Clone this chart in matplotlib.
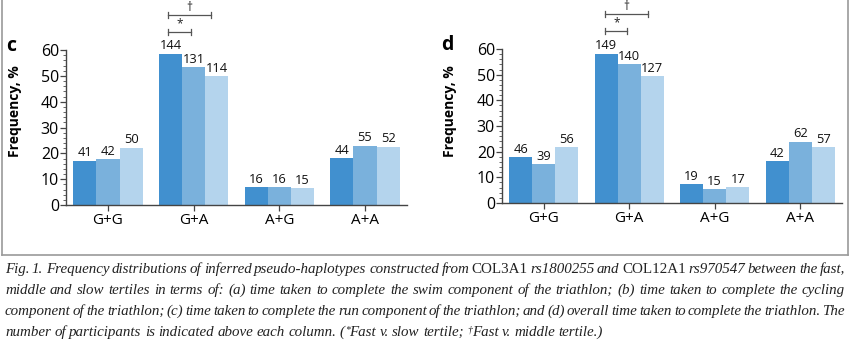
import matplotlib
matplotlib.use('Agg')
import matplotlib.pyplot as plt
from matplotlib.ticker import MultipleLocator
from matplotlib.lines import Line2D

categories = ['G+G', 'G+A', 'A+G', 'A+A']
tertiles = ['Fast', 'Middle', 'Slow']

# Panel c (run component) – frequency %
c_fast = [17.2, 58.6, 7.0, 18.1]
c_middle = [17.7, 53.4, 6.8, 23.0]
c_slow = [22.2, 49.8, 6.5, 22.6]
c_n_fast = [41, 144, 16, 44]
c_n_middle = [42, 131, 16, 55]
c_n_slow = [50, 114, 15, 52]

# Panel d (overall time) – frequency %
d_fast = [17.9, 58.2, 7.4, 16.4]
d_middle = [15.1, 54.0, 5.5, 23.9]
d_slow = [21.7, 49.4, 6.2, 21.7]
d_n_fast = [46, 149, 19, 42]
d_n_middle = [39, 140, 15, 62]
d_n_slow = [56, 127, 17, 57]

colors = ['#4190cf', '#7ab1dc', '#b4d4ed']
W, H = 849, 341
FONT = ['Open Sans', 'DejaVu Sans']
plt.rcParams['font.family'] = FONT

fig = plt.figure(figsize=(W / 100, H / 100), dpi=100)


def px_axes(left, right, top, bottom):
    return fig.add_axes([left / W, 1 - bottom / H, (right - left) / W, (bottom - top) / H])


def panel(ax, series, counts, xbr):
    bw = 0.27
    offs = [-bw, 0, bw]
    for vals, ns, off, col in zip(series, counts, offs, colors):
        xs = [i + off for i in range(len(categories))]
        ax.bar(xs, vals, width=bw, color=col, linewidth=0)
        for x, v, n in zip(xs, vals, ns):
            ax.text(x, v + 0.5, str(n), ha='center', va='bottom', fontsize=9.3, color='#111')
    ax.set_xlim(-0.49, 3.49)
    ax.set_ylim(0, 60)
    for s in ['top', 'right']:
        ax.spines[s].set_visible(False)
    for s in ['left', 'bottom']:
        ax.spines[s].set_color('#444')
        ax.spines[s].set_linewidth(1.0)
    ax.yaxis.set_major_locator(MultipleLocator(10))
    ax.yaxis.set_minor_locator(MultipleLocator(2))
    ax.set_xticks(range(len(categories)))
    ax.set_xticklabels(categories, fontsize=11)
    ax.tick_params(axis='y', which='major', length=4, width=0.9, color='#444', labelsize=11.5, pad=1)
    ax.tick_params(axis='y', which='minor', length=2.5, width=0.7, color='#666')
    ax.tick_params(axis='x', which='major', length=4, width=0.9, color='#444', pad=1.5)
    # significance brackets
    x0, xs_end, xd_end = xbr
    cap = 1.2
    for (xe, y, sym) in [(xd_end, 73.5, '\u2020'), (xs_end, 67.0, '*')]:
        ax.plot([x0, xe], [y, y], color='#555', lw=0.9, clip_on=False)
        ax.plot([x0, x0], [y - cap, y + cap], color='#555', lw=0.9, clip_on=False)
        ax.plot([xe, xe], [y - cap, y + cap], color='#555', lw=0.9, clip_on=False)
        ax.text((x0 + xe) / 2, y + 0.6, sym, ha='center', va='bottom', fontsize=8.5, color='#222', clip_on=False)


axc = px_axes(66, 407, 50, 205)
panel(axc, [c_fast, c_middle, c_slow], [c_n_fast, c_n_middle, c_n_slow], (0.70, 0.97, 1.20))
axd = px_axes(502, 842, 49, 203)
panel(axd, [d_fast, d_middle, d_slow], [d_n_fast, d_n_middle, d_n_slow], (0.72, 0.977, 1.22))

fig.text(11 / W, 1 - 46 / H, 'c', fontsize=14, fontweight='bold', ha='center', va='center')
fig.text(447 / W, 1 - 45 / H, 'd', fontsize=14, fontweight='bold', ha='center', va='center')
fig.text(15 / W, 1 - 111 / H, 'Frequency, %', rotation=90, fontsize=10, fontweight='bold', ha='center', va='center')
fig.text(450 / W, 1 - 111 / H, 'Frequency, %', rotation=90, fontsize=10, fontweight='bold', ha='center', va='center')

# frame around the figure panels
gray = '#9a9a9a'
for xs, ys in [([1.5, 1.5], [-5, 255]), ([847.5, 847.5], [-5, 255]), ([1.5, 847.5], [255, 255])]:
    fig.add_artist(Line2D([x / W for x in xs], [1 - y / H for y in ys], color=gray, lw=1.2))

# caption, justified word by word
SERIF = ['Liberation Serif', 'DejaVu Serif']
IT = dict(family=SERIF, style='italic', color='#222')
RM = dict(family=SERIF, style='normal', color='#222')

lines = [
    "Fig. 1. Frequency distributions of inferred pseudo-haplotypes constructed from |COL3A1| rs1800255 and |COL12A1| rs970547 between the fast,",
    "middle and slow tertiles in terms of: (a) time taken to complete the swim component of the triathlon; (b) time taken to complete the cycling",
    "component of the triathlon; (c) time taken to complete the run component of the triathlon; and (d) overall time taken to complete the triathlon. The",
    "number of participants is indicated above each column. (^*^Fast v. slow tertile; ^\u2020^Fast v. middle tertile.)",
]

fig.canvas.draw()
renderer = fig.canvas.get_renderer()


def segs_of(word, fs):
    if word.startswith('|') and word.endswith('|'):
        return [(word.strip('|'), RM, fs)]
    out = []
    for k, p in enumerate(word.split('^')):
        if p:
            out.append((p, IT, fs * 0.65 if k % 2 == 1 else fs))
    return out


def seg_w(text, style, fs):
    t = fig.text(0, 0, text, fontsize=fs, **style)
    w = t.get_window_extent(renderer).width
    t.remove()
    return w


x_left, x_right = 5, 845
base_fs = 10.0
target_gap = 1.9
tight = lines[2].split(' ')
wsum = sum(sum(seg_w(s, st, f) for s, st, f in segs_of(w, base_fs)) for w in tight)
FS = base_fs * (x_right - x_left - target_gap * (len(tight) - 1)) / wsum

ybase = [273, 294, 315, 336]
for li, line in enumerate(lines):
    words = [segs_of(w, FS) for w in line.split(' ')]
    widths = [sum(seg_w(s, st, f) for s, st, f in wd) for wd in words]
    if li < len(lines) - 1:
        gap = (x_right - x_left - sum(widths)) / (len(words) - 1)
    else:
        gap = 3.4
    x = x_left
    for wd, wdt in zip(words, widths):
        xx = x
        for s, st, f in wd:
            yoff = -4 if f < FS else 0
            fig.text(xx / W, 1 - (ybase[li] + yoff) / H, s, fontsize=f, ha='left', va='baseline', **st)
            xx += seg_w(s, st, f)
        x += wdt + gap

fig.savefig('out.png', dpi=100)
